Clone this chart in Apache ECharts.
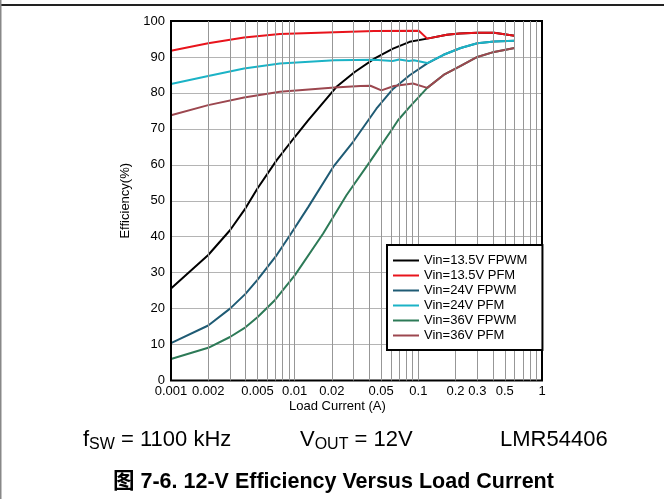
<!DOCTYPE html>
<html>
<head>
<meta charset="utf-8">
<script src="https://cdn.jsdelivr.net/npm/echarts@6/dist/echarts.min.js"></script>
<style>
html,body{margin:0;padding:0;background:#fff;}
#c{width:664px;height:499px;}
</style>
</head>
<body>
<div id="c"></div>
<script>
// ---- data ----
var seriesNames = ['Vin=13.5V FPWM','Vin=13.5V PFM','Vin=24V FPWM','Vin=24V PFM','Vin=36V FPWM','Vin=36V PFM'];
var seriesColors = ['#000000','#e8141c','#1f5b74','#1bb3c6','#2d7a57','#9c474f'];

var v135fpwmX = [0.001,0.002,0.003,0.004,0.005,0.00716,0.01005,0.0129,0.0218,0.0306,0.0444,0.0624,0.0851,0.118,0.17,0.215,0.3,0.41,0.6];
var v135fpwmY = [25.6,34.9,41.8,47.9,53.4,61.3,67.8,72.4,81.7,85.8,89.6,92.3,94.2,95.1,96.2,96.5,96.7,96.7,95.9];

var v135pfmX = [0.001,0.002,0.0039,0.0076,0.021,0.044,0.101,0.118,0.17,0.215,0.3,0.41,0.6];
var v135pfmY = [91.7,93.8,95.4,96.4,96.9,97.2,97.3,95.1,96.2,96.5,96.7,96.7,95.9];

var v24fpwmX = [0.001,0.002,0.003,0.004,0.005,0.00716,0.00916,0.0129,0.0205,0.0297,0.0458,0.0624,0.0851,0.118,0.16,0.22,0.3,0.41,0.6];
var v24fpwmY = [10.4,15.3,20.0,24.1,28.0,34.9,40.4,48.3,59.4,66.4,75.6,81.1,84.9,88.2,90.6,92.5,93.8,94.3,94.5];

var v24pfmX = [0.001,0.002,0.0039,0.0076,0.021,0.044,0.062,0.07,0.084,0.092,0.118,0.16,0.22,0.3,0.41,0.6];
var v24pfmY = [82.5,84.7,86.8,88.2,89.1,89.2,88.9,89.3,88.9,89.1,88.3,90.6,92.5,93.8,94.3,94.5];

var v36fpwmX = [0.001,0.002,0.003,0.004,0.005,0.00694,0.01005,0.017,0.0263,0.0405,0.0606,0.0685,0.0851,0.118,0.16,0.22,0.3,0.41,0.6];
var v36fpwmY = [6.0,9.1,12.1,14.8,17.6,22.4,29.3,40.9,51.6,60.8,69.6,72.4,76.1,81.4,85.0,87.5,90.0,91.4,92.5];

var v36pfmX = [0.001,0.002,0.0039,0.0076,0.021,0.034,0.041,0.0503,0.0635,0.0905,0.118,0.16,0.22,0.3,0.41,0.6];
var v36pfmY = [73.8,76.6,78.7,80.3,81.5,81.9,82.0,80.7,81.9,82.6,81.4,85.0,87.5,90.0,91.4,92.5];

var xGridValues = [0.002,0.003,0.004,0.005,0.006,0.007,0.008,0.009,0.01,0.02,0.03,0.04,0.05,0.06,0.07,0.08,0.09,0.1,0.2,0.3,0.4,0.5,0.6,0.7,0.8,0.9];
var xTickValues = [0.001,0.002,0.005,0.01,0.02,0.05,0.1,0.2,0.3,0.5,1];
var xTickLabels = ['0.001','0.002','0.005','0.01','0.02','0.05','0.1','0.2','0.3','0.5','1'];

var FONT = "'Liberation Sans', Arial, 'Noto Sans CJK SC', sans-serif";

function pairs(xs, ys){ return xs.map(function(x,i){ return [x, ys[i]]; }); }
var seriesData = [
  pairs(v135fpwmX, v135fpwmY),
  pairs(v135pfmX, v135pfmY),
  pairs(v24fpwmX, v24fpwmY),
  pairs(v24pfmX, v24pfmY),
  pairs(v36fpwmX, v36fpwmY),
  pairs(v36pfmX, v36pfmY)
];

var series = [{
  name: 'grid', type: 'line', data: [], z: 1, silent: true,
  markLine: {
    silent: true, symbol: ['none','none'], animation: false, precision: 10,
    lineStyle: {color: '#979797', width: 1, type: 'solid'},
    label: {show: false},
    emphasis: {disabled: true},
    data: xGridValues.map(function(v){ return {xAxis: v}; })
  }
}];
seriesNames.forEach(function(n, i){
  series.push({
    name: n, type: 'line', data: seriesData[i], z: 3,
    showSymbol: false, symbol: 'none', smooth: false,
    lineStyle: {color: seriesColors[i], width: 2},
    itemStyle: {color: seriesColors[i]},
    animation: false
  });
});

var chart = echarts.init(document.getElementById('c'), null, {renderer: 'canvas'});
chart.setOption({
  backgroundColor: '#ffffff',
  animation: false,
  textStyle: {fontFamily: FONT},
  grid: {left: 171, right: 122, top: 21, bottom: 118.5, show: true, borderColor: '#000', borderWidth: 2, backgroundColor: 'transparent', z: 5},
  xAxis: {
    type: 'log', logBase: 10, min: 0.001, max: 1,
    axisLine: {show: false}, axisTick: {show: false}, splitLine: {show: false},
    axisLabel: {
      show: true, customValues: xTickValues, color: '#000', fontSize: 13, fontFamily: FONT, margin: 4,
      formatter: function(v){ var i = xTickValues.findIndex(function(t){ return Math.abs(t - v)/t < 1e-6; }); return i >= 0 ? xTickLabels[i] : ''; }
    }
  },
  yAxis: {
    type: 'value', min: 0, max: 100, interval: 10,
    name: 'Efficiency(%)', nameLocation: 'middle', nameGap: 33, nameRotate: 90,
    nameTextStyle: {color: '#000', fontSize: 13, fontFamily: FONT},
    axisLine: {show: false}, axisTick: {show: false},
    axisLabel: {color: '#000', fontSize: 13, fontFamily: FONT, margin: 6},
    splitLine: {show: true, lineStyle: {color: '#b4b4b4', width: 1}}
  },
  legend: {
    data: seriesNames, orient: 'vertical', left: 387, top: 245, z: 10,
    backgroundColor: '#fff', borderColor: '#000', borderWidth: 2,
    padding: [9, 15, 8, 6], itemGap: 2, itemWidth: 26, itemHeight: 2,
    icon: 'rect', selectedMode: false,
    textStyle: {color: '#000', fontSize: 13, fontFamily: FONT, lineHeight: 13}
  },
  graphic: [
    {type: 'rect', shape: {x: 0, y: 4, width: 664, height: 2}, style: {fill: '#222'}, silent: true},
    {type: 'rect', shape: {x: 0, y: 0, width: 1.5, height: 499}, style: {fill: '#888'}, silent: true},
    {type: 'text', left: 289, top: 400, silent: true, style: {text: 'Load Current (A)', fill: '#000', font: '13px ' + FONT}},
    {type: 'text', left: 83, top: 429, silent: true, style: {
      text: 'f{s|SW} = 1100 kHz', fill: '#000', font: '22px ' + FONT,
      rich: {s: {fontSize: 16, fontFamily: FONT, padding: [9,0,0,0], fill: '#000'}}
    }},
    {type: 'text', left: 300, top: 429, silent: true, style: {
      text: 'V{s|OUT} = 12V', fill: '#000', font: '22px ' + FONT,
      rich: {s: {fontSize: 16, fontFamily: FONT, padding: [9,0,0,0], fill: '#000'}}
    }},
    {type: 'text', left: 500, top: 429, silent: true, style: {text: 'LMR54406', fill: '#000', font: '22px ' + FONT}},
    {type: 'text', left: 113, top: 471, silent: true, style: {text: '图 7-6. 12-V Efficiency Versus Load Current', fill: '#000', font: 'bold 21.5px ' + FONT}}
  ],
  series: series
});
</script>
</body>
</html>
